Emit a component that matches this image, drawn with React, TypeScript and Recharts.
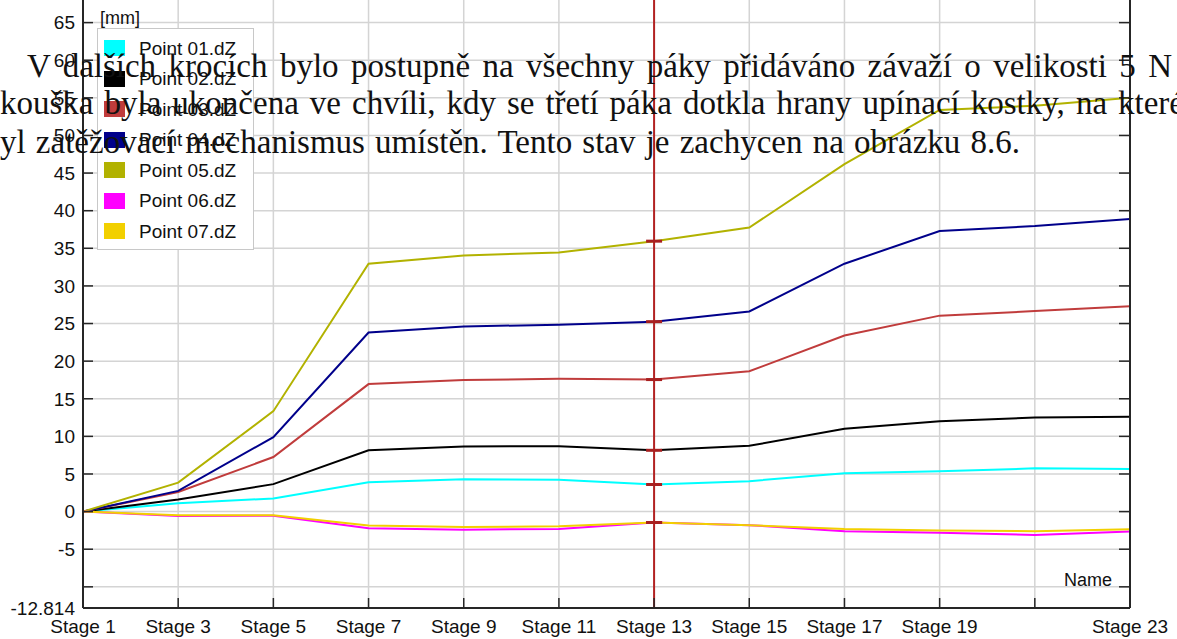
import { CartesianGrid, Legend, Line, LineChart, ReferenceLine, XAxis, YAxis } from 'recharts';

const stages = ['Stage 1', 'Stage 3', 'Stage 5', 'Stage 7', 'Stage 9', 'Stage 11', 'Stage 13', 'Stage 15', 'Stage 17', 'Stage 19', 'Stage 21', 'Stage 23'];

const point01 = [0, 1.1, 1.75, 3.9, 4.3, 4.25, 3.6, 4.05, 5.1, 5.35, 5.75, 5.65];
const point02 = [0, 1.6, 3.65, 8.15, 8.65, 8.7, 8.15, 8.75, 11.0, 12.0, 12.5, 12.6];
const point03 = [0, 2.6, 7.25, 16.95, 17.5, 17.65, 17.55, 18.65, 23.4, 26.05, 26.65, 27.3];
const point04 = [0, 2.75, 9.9, 23.8, 24.6, 24.85, 25.25, 26.6, 32.95, 37.3, 37.95, 38.9];
const point05 = [0, 3.85, 13.35, 32.95, 34.05, 34.45, 35.95, 37.75, 46.2, 53.4, 53.95, 55.0];
const point06 = [0, -0.6, -0.55, -2.2, -2.4, -2.3, -1.45, -1.8, -2.6, -2.8, -3.1, -2.65];
const point07 = [0, -0.5, -0.5, -1.85, -2.05, -1.95, -1.45, -1.8, -2.3, -2.5, -2.6, -2.35];

const seriesNames = ['Point 01.dZ', 'Point 02.dZ', 'Point 03.dZ', 'Point 04.dZ', 'Point 05.dZ', 'Point 06.dZ', 'Point 07.dZ'];
const seriesColors = ['#00ffff', '#000000', '#c03c3c', '#00008b', '#b2b200', '#ff00ff', '#f2d000'];

const yTicks = [-12.814, -10, -5, 0, 5, 10, 15, 20, 25, 30, 35, 40, 45, 50, 55, 60, 65, 70];
const hiddenYTicks = [-10, 70];
const hiddenXTicks = ['Stage 21'];
const markedStage = 'Stage 13';

const paragraphLines = [
    'V dalších krocích bylo postupně na všechny páky přidáváno závaží o velikosti 5 N',
    'kouška byla ukončena ve chvíli, kdy se třetí páka dotkla hrany upínací kostky, na které',
    'yl zatěžovací mechanismus umístěn. Tento stav je zachycen na obrázku 8.6.',
];

const series = [point01, point02, point03, point04, point05, point06, point07];
const keys = series.map((_, k) => `p${k + 1}`);

const data = stages.map((name, i) => {
    const row: { [key: string]: number | string } = { name };
    series.forEach((s, k) => {
        row[keys[k]] = s[i];
    });
    return row;
});

const sansFont = '"Liberation Sans", Arial, Helvetica, sans-serif';
const tickStyle = { fontFamily: sansFont, fontSize: 19, fill: '#111' };
const axisColor = '#262626';

const capDot = (props: any) => {
    const { cx, cy, index, payload } = props;
    if (!payload || payload.name !== markedStage) return <g key={`dot-${index}`} />;
    return <line key={`dot-${index}`} x1={cx - 8} x2={cx + 8} y1={cy} y2={cy} stroke="#a82020" strokeWidth={3} />;
};

const renderLegend = (props: any) => {
    const payload = (props.payload || []).filter((entry: any) => seriesNames.includes(entry.value));
    return (
        <div
            style={{
                width: 157,
                height: 222,
                boxSizing: 'border-box',
                border: '1.5px solid #c8c8c8',
                background: '#fff',
                padding: '4px 0 0 6px',
            }}
        >
            {payload.map((entry: any) => (
                <div key={entry.value} style={{ display: 'flex', alignItems: 'center', height: 30.5 }}>
                    <span style={{ display: 'inline-block', width: 21, height: 16, background: entry.color, marginRight: 14 }} />
                    <span style={{ fontFamily: sansFont, fontSize: 19, color: '#111', lineHeight: 1 }}>{entry.value}</span>
                </div>
            ))}
        </div>
    );
};

const unitLabel = (props: any) => {
    const vb = props.viewBox || { x: 0, y: 0, width: 83 };
    return (
        <text x={vb.x + vb.width + 17} y={vb.y + 39} fontFamily={sansFont} fontSize={18} fill="#111">
            [mm]
        </text>
    );
};

const nameLabel = (props: any) => {
    const vb = props.viewBox || { x: 0, y: 0, width: 0 };
    return (
        <text x={vb.x + vb.width - 18} y={vb.y - 22} textAnchor="end" fontFamily={sansFont} fontSize={18} fill="#111">
            Name
        </text>
    );
};

const textLayout = [
    { left: 27, top: 50, width: 1145 },
    { left: 0, top: 87, width: 1184 },
    { left: 0, top: 126, width: 1020 },
];

export default function App() {
    return (
        <div style={{ position: 'absolute', left: 0, top: 0, width: 1177, height: 639, overflow: 'hidden', background: '#fff' }}>
            <div style={{ position: 'absolute', left: 0, top: -40 }}>
                <LineChart width={1177} height={679} data={data} margin={{ top: 25, right: 0, bottom: 1, left: 0 }}>
                    <CartesianGrid stroke="#d4d4d4" strokeWidth={1.5} />
                    <XAxis
                        dataKey="name"
                        height={30}
                        interval={0}
                        tickSize={-10}
                        tickMargin={22}
                        tick={tickStyle}
                        tickFormatter={(v: string) => (hiddenXTicks.includes(v) ? '' : v)}
                        stroke={axisColor}
                        axisLine={{ stroke: axisColor, strokeWidth: 2 }}
                        tickLine={{ stroke: axisColor, strokeWidth: 1.5 }}
                        label={{ value: 'Name', content: nameLabel }}
                    />
                    <YAxis
                        type="number"
                        width={83}
                        domain={[-12.814, 70]}
                        ticks={yTicks}
                        interval={0}
                        allowDataOverflow
                        tickSize={-10}
                        tickMargin={18}
                        tick={tickStyle}
                        tickFormatter={(v: number) => (hiddenYTicks.includes(v) ? '' : String(v))}
                        stroke={axisColor}
                        axisLine={{ stroke: axisColor, strokeWidth: 2 }}
                        tickLine={{ stroke: axisColor, strokeWidth: 1.5 }}
                        label={{ value: '[mm]', content: unitLabel }}
                    />
                    <YAxis
                        yAxisId="right"
                        orientation="right"
                        type="number"
                        width={47}
                        domain={[-12.814, 70]}
                        ticks={yTicks}
                        interval={0}
                        allowDataOverflow
                        tickSize={-11}
                        tickFormatter={() => ''}
                        stroke={axisColor}
                        axisLine={{ stroke: axisColor, strokeWidth: 2 }}
                        tickLine={{ stroke: axisColor, strokeWidth: 1.5 }}
                    />
                    {keys.map((key, k) => (
                        <Line
                            key={key}
                            type="linear"
                            dataKey={key}
                            name={seriesNames[k]}
                            stroke={seriesColors[k]}
                            strokeWidth={2}
                            dot={false}
                            activeDot={false}
                            isAnimationActive={false}
                        />
                    ))}
                    <ReferenceLine x={markedStage} stroke="#b22222" strokeWidth={2} />
                    {keys.map((key) => (
                        <Line
                            key={`${key}-cap`}
                            type="linear"
                            dataKey={key}
                            stroke="none"
                            legendType="none"
                            dot={capDot}
                            activeDot={false}
                            isAnimationActive={false}
                        />
                    ))}
                    <Legend
                        layout="vertical"
                        align="center"
                        verticalAlign="middle"
                        content={renderLegend}
                        wrapperStyle={{ left: 97, top: 68, width: 157, height: 222 }}
                    />
                </LineChart>
            </div>
            {paragraphLines.map((line, i) => (
                <div
                    key={i}
                    style={{
                        position: 'absolute',
                        left: textLayout[i].left,
                        top: textLayout[i].top,
                        width: textLayout[i].width,
                        fontFamily: '"Liberation Serif", "DejaVu Serif", serif',
                        fontSize: 33,
                        lineHeight: 1,
                        color: '#111',
                        textAlign: 'justify',
                        textAlignLast: 'justify',
                        whiteSpace: 'nowrap',
                        pointerEvents: 'none',
                    }}
                >
                    {line}
                </div>
            ))}
        </div>
    );
}
